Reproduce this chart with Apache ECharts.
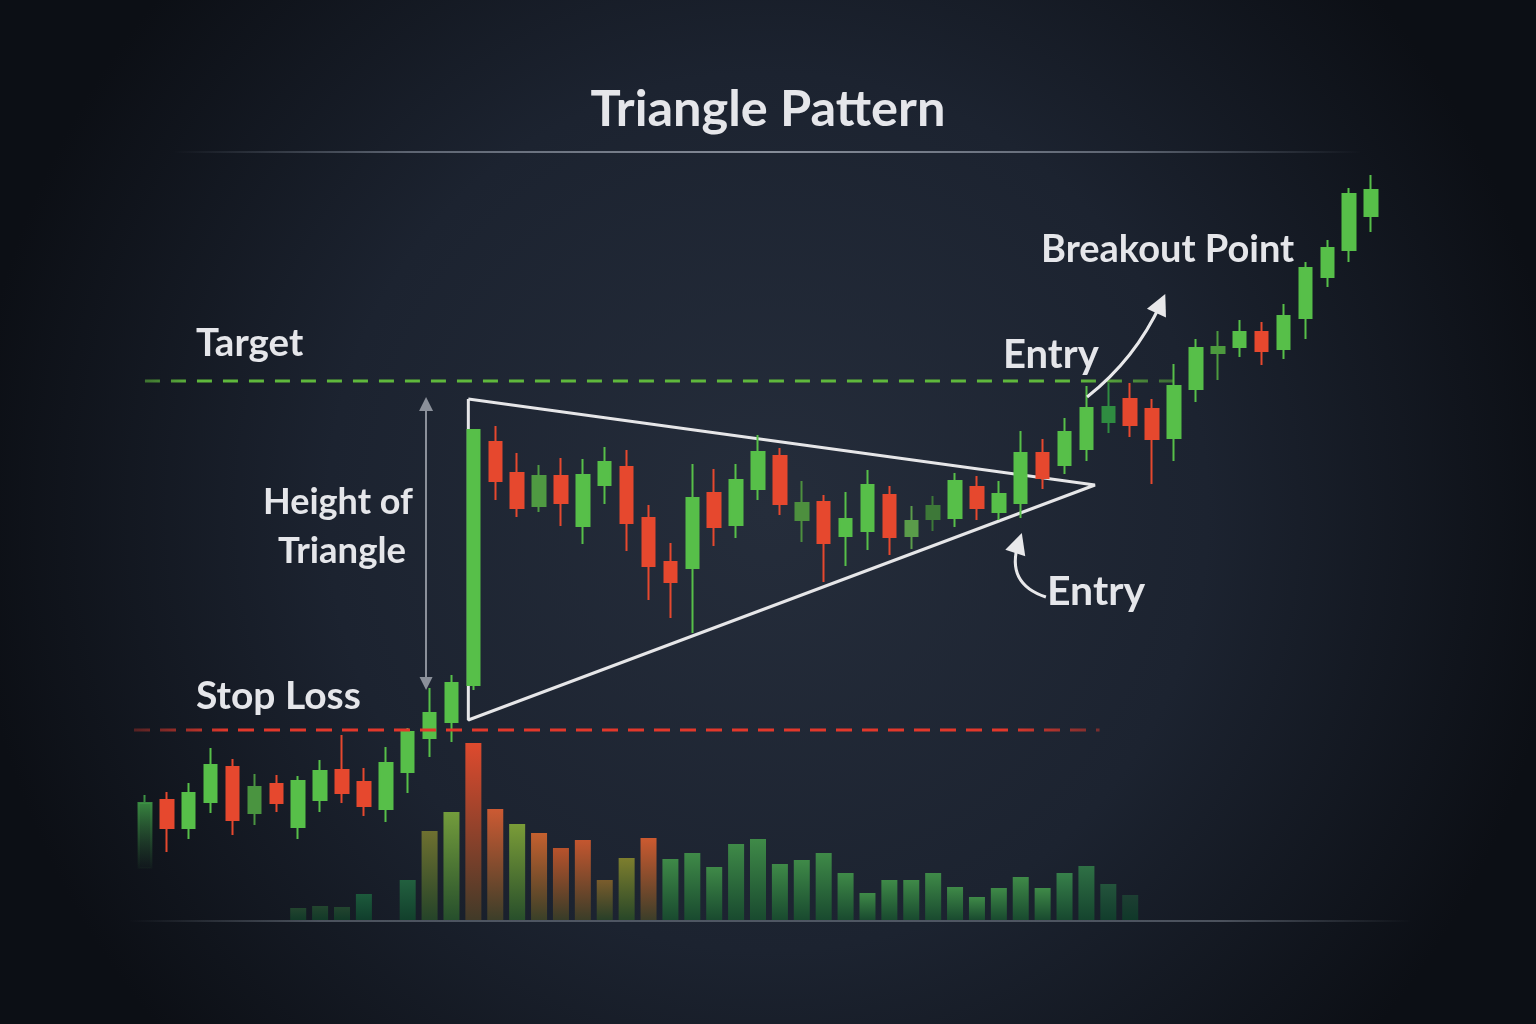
<!DOCTYPE html>
<html>
<head>
<meta charset="utf-8">
<script src="https://cdn.jsdelivr.net/npm/echarts@6/dist/echarts.min.js"></script>
<style>
html,body{margin:0;padding:0;background:#141a25;}
#chart{width:1536px;height:1024px;}
</style>
</head>
<body>
<div id="chart"></div>
<script>
// ---------------- DATA ----------------
const days = ['D1','D2','D3','D4','D5','D6','D7','D8','D9','D10','D11','D12','D13','D14','D15','D16','D17','D18','D19','D20',
  'D21','D22','D23','D24','D25','D26','D27','D28','D29','D30','D31','D32','D33','D34','D35','D36','D37','D38','D39','D40',
  'D41','D42','D43','D44','D45','D46','D47','D48','D49','D50','D51','D52','D53','D54','D55','D56','D57'];

// [open, close, low, high]
const ohlc = [
  [12.4, 25.4, 12.4, 27.0],
  [26.0, 20.4, 15.6, 27.6],
  [20.4, 27.4, 18.2, 29.4],
  [25.6, 33.0, 23.4, 36.4],
  [32.6, 22.0, 19.0, 34.2],
  [23.4, 28.6, 21.0, 31.2],
  [29.2, 25.4, 23.6, 31.0],
  [20.6, 29.8, 18.2, 30.8],
  [26.0, 31.8, 23.6, 34.0],
  [32.0, 27.4, 25.4, 39.0],
  [29.6, 24.8, 22.8, 32.4],
  [24.2, 33.4, 21.6, 36.6],
  [31.6, 39.6, 27.4, 40.4],
  [38.4, 43.4, 34.6, 48.4],
  [41.6, 49.4, 37.6, 51.0],
  [49.0, 100.0, 48.0, 100.0],
  [97.6, 89.8, 86.0, 100.8],
  [91.4, 84.4, 82.6, 95.4],
  [84.8, 90.8, 83.6, 93.0],
  [90.8, 85.4, 80.8, 94.4],
  [80.8, 91.0, 77.2, 94.2],
  [89.0, 93.6, 85.2, 96.6],
  [92.6, 81.4, 75.8, 96.0],
  [82.4, 72.8, 66.0, 85.0],
  [73.6, 69.6, 62.4, 77.4],
  [72.4, 86.4, 59.4, 93.2],
  [87.4, 80.6, 76.8, 92.2],
  [81.0, 90.0, 78.4, 93.2],
  [88.2, 95.6, 86.0, 99.0],
  [94.8, 85.2, 83.0, 96.4],
  [82.0, 85.4, 77.6, 89.8],
  [85.6, 77.4, 69.6, 87.0],
  [78.8, 82.2, 72.8, 87.6],
  [79.8, 89.0, 76.0, 92.0],
  [87.0, 78.6, 75.0, 88.8],
  [78.8, 81.8, 76.2, 84.8],
  [82.2, 84.8, 79.8, 86.8],
  [82.4, 89.8, 80.6, 91.4],
  [88.6, 84.4, 82.0, 90.8],
  [83.6, 87.2, 82.0, 89.8],
  [85.4, 95.4, 82.4, 99.8],
  [95.4, 90.4, 88.2, 98.2],
  [93.0, 99.6, 91.2, 102.4],
  [96.2, 104.4, 93.8, 108.8],
  [101.6, 104.6, 99.4, 109.4],
  [106.2, 101.0, 98.6, 109.4],
  [104.2, 98.2, 89.2, 106.2],
  [98.4, 108.8, 93.8, 113.2],
  [108.2, 116.4, 105.6, 118.2],
  [115.4, 116.6, 110.0, 119.8],
  [116.6, 119.6, 114.6, 122.0],
  [119.6, 115.8, 113.0, 121.6],
  [116.2, 122.8, 114.2, 125.2],
  [122.4, 132.4, 118.2, 133.6],
  [130.6, 136.4, 128.6, 138.0],
  [136.0, 147.2, 133.6, 148.4],
  [142.8, 148.0, 139.6, 151.0]
];

const volume = [
  null, null, null, null, null, null, null,
  12, 14, 13, 26, null, 40, 89, 108, 177, 111, 96, 87, 72,
  80, 40, 62, 82, 61, 67, 53, 76, 81, 56,
  60, 67, 47, 27, 40, 40, 47, 33, 23, 32,
  43, 32, 47, 54, 36, 25,
  null, null, null, null, null, null, null, null, null, null, null
];

// pattern levels (price units)
const targetPrice = 109.8;
const stopPrice = 40;
const targetSpan = [0, 47.2];
const stopSpan = [-0.5, 43.6];
// triangle outline (x in candle-index units, y in price)
const triangleX = [14.77, 43.39, 14.77, 14.77];
const triangleY = [106.2, 89.0, 42.0, 106.2];
// annotation arrows [[x,y] start, [x,y] end]
const heightArrow = [[12.84, 49.3], [12.84, 105.2]];
const breakoutArrow = [[43.03, 106.6], [46.4, 125.3]];
const entryArrow = [[41.15, 66.6], [39.9, 77.4]];

// ---------------- STYLE ----------------
const UP = '#57bf49';
const DOWN = '#e6482e';
const dimCandles = {5:'#4a9440', 18:'#4f9a42', 30:'#4d8f3e', 35:'#5a9c4a', 36:'#3d7838', 44:'#2f8c41', 49:'#4c9a3e'};
const volumeColors = {
  7:'#23452f', 8:'#23452f', 9:'#23452f', 10:'#1d5a3c', 12:'#22603f', 13:'#6e7030', 14:'#739c3c',
  15:'#de4a2e', 16:'#cc5a33', 17:'#7a9c38', 18:'#c4602f', 19:'#b8522c', 20:'#c4562f', 21:'#7a5c2c',
  22:'#7d7e2e', 23:'#cc5a30', 42:'#37804a', 43:'#2f7045', 44:'#24543c', 45:'#1d3f33'
};
const volumeDefault = '#3f8a48';

function hexToRgb(h){h=h.replace('#','');return [parseInt(h.substr(0,2),16),parseInt(h.substr(2,2),16),parseInt(h.substr(4,2),16)];}
function mix(a,b,t){const A=hexToRgb(a),B=hexToRgb(b);return 'rgb('+A.map((v,i)=>Math.round(v*(1-t)+B[i]*t)).join(',')+')';}

const candleData = ohlc.map((v, i) => {
  const item = { value: v };
  if (dimCandles[i]) item.itemStyle = { color: dimCandles[i], borderColor: dimCandles[i] };
  if (i === 0) {
    const g = { type:'linear', x:0, y:0, x2:0, y2:1, colorStops:[{offset:0,color:'#3f9a46'},{offset:1,color:'rgba(40,90,50,0.05)'}] };
    item.itemStyle = { color: g, borderColor: g };
  }
  return item;
});

const volumeData = volume.map((v, i) => {
  if (v == null) return null;
  const top = volumeColors[i] || volumeDefault;
  return {
    value: v,
    itemStyle: { color: { type:'linear', x:0, y:0, x2:0, y2:1, colorStops:[
      {offset:0, color: top}, {offset:1, color: mix(top, '#0c3526', 0.75)} ] } }
  };
});

const GRID_L = 134, GRID_R = 154;

const chart = echarts.init(document.getElementById('chart'), null, {renderer:'canvas', width:1536, height:1024});

function label(text, x, y, size, align) {
  return { type:'text', silent:true, z:100, style:{
    text:text, x:x, y:y, fill:'#e5e6ea', font:'bold ' + size + 'px Lato',
    textAlign: align || 'left', textVerticalAlign:'middle',
    shadowBlur:8, shadowColor:'rgba(0,0,0,0.55)', shadowOffsetY:2 } };
}

const option = {
  animation: false,
  backgroundColor: { type:'radial', x:0.5, y:0.5, r:0.78, colorStops:[
    {offset:0, color:'#252d3b'}, {offset:0.55, color:'#1c2330'}, {offset:1, color:'#0c0f15'} ] },
  grid: [
    { left: GRID_L, right: GRID_R, top: 130, bottom: 94 },
    { left: GRID_L, right: GRID_R, top: 740, bottom: 104 }
  ],
  xAxis: [
    { type:'category', gridIndex:0, data: days, show:false, boundaryGap:true },
    { type:'category', gridIndex:1, data: days, show:false, boundaryGap:true },
    { type:'value', gridIndex:0, min:-0.5, max:56.5, show:false }
  ],
  yAxis: [
    { type:'value', gridIndex:0, min:0, max:160, show:false },
    { type:'value', gridIndex:1, min:0, max:180, show:false }
  ],
  series: [
    { name:'Volume', type:'bar', xAxisIndex:1, yAxisIndex:1, barWidth:16, z:1, silent:true, data: volumeData },
    { name:'Triangle', type:'line', xAxisIndex:2, yAxisIndex:0, z:2, silent:true, symbol:'none',
      lineStyle:{ color:'#e6e6e8', width:3 },
      data: triangleX.map((x, i) => [x, triangleY[i]]) },
    { name:'HeightArrow', type:'lines', coordinateSystem:'cartesian2d', xAxisIndex:2, yAxisIndex:0, z:2, silent:true,
      symbol:['triangle','triangle'], symbolSize:[13,14],
      lineStyle:{ color:'#8b909a', width:2, opacity:1 },
      data: [ { coords: heightArrow } ] },
    { name:'EntryArrows', type:'lines', coordinateSystem:'cartesian2d', xAxisIndex:2, yAxisIndex:0, z:5, silent:true,
      symbol:['none','triangle'], symbolSize:[19,21],
      lineStyle:{ color:'#e8e8ea', width:3, opacity:1 },
      data: [
        { coords: breakoutArrow, lineStyle:{ curveness:-0.12 } },
        { coords: entryArrow, lineStyle:{ curveness:0.5 } }
      ] },
    { name:'Price', type:'candlestick', xAxisIndex:0, yAxisIndex:0, z:3, silent:true, barWidth:13,
      itemStyle:{ color:UP, color0:DOWN, borderColor:UP, borderColor0:DOWN, borderWidth:2 },
      data: candleData },
    { name:'Target', type:'line', xAxisIndex:2, yAxisIndex:0, z:4, silent:true, symbol:'none',
      lineStyle:{ width:3, type:[15,11], color:{ type:'linear', x:0, y:0, x2:1, y2:0, colorStops:[
        {offset:0, color:'rgba(95,184,60,0.55)'}, {offset:0.05, color:'#5fb83c'}, {offset:0.9, color:'#5fb83c'}, {offset:1, color:'rgba(95,184,60,0.45)'} ] } },
      data: targetSpan.map(x => [x, targetPrice]) },
    { name:'Stop', type:'line', xAxisIndex:2, yAxisIndex:0, z:4, silent:true, symbol:'none',
      lineStyle:{ width:3, type:[16,10], color:{ type:'linear', x:0, y:0, x2:1, y2:0, colorStops:[
        {offset:0, color:'rgba(226,56,43,0.3)'}, {offset:0.1, color:'#e2382b'}, {offset:0.9, color:'#e2382b'}, {offset:1, color:'rgba(226,56,43,0.45)'} ] } },
      data: stopSpan.map(x => [x, stopPrice]) }
  ],
  graphic: [
    { type:'line', silent:true, z:50, shape:{x1:175, y1:152, x2:1360, y2:152},
      style:{ lineWidth:2, stroke:{ type:'linear', x:0, y:0, x2:1, y2:0, colorStops:[
        {offset:0, color:'rgba(140,150,165,0)'}, {offset:0.2, color:'rgba(150,158,172,0.55)'}, {offset:0.5, color:'rgba(170,176,188,0.75)'},
        {offset:0.8, color:'rgba(150,158,172,0.55)'}, {offset:1, color:'rgba(140,150,165,0)'} ] } } },
    { type:'line', silent:true, z:50, shape:{x1:130, y1:921, x2:1410, y2:921},
      style:{ lineWidth:2, stroke:{ type:'linear', x:0, y:0, x2:1, y2:0, colorStops:[
        {offset:0, color:'rgba(120,128,140,0)'}, {offset:0.15, color:'rgba(120,128,140,0.55)'}, {offset:0.85, color:'rgba(120,128,140,0.55)'}, {offset:1, color:'rgba(120,128,140,0)'} ] } } },
    label('Triangle Pattern', 768, 110, 50.5, 'center'),
    label('Target', 196, 344, 38.5),
    label('Stop Loss', 196, 696, 39),
    label('Height of', 338, 502, 36, 'center'),
    label('Triangle', 342, 551, 36.5, 'center'),
    label('Entry', 1003, 355, 40),
    label('Breakout Point', 1041, 250, 38),
    label('Entry', 1047, 592, 41)
  ]
};

chart.setOption(option);
</script>
</body>
</html>
